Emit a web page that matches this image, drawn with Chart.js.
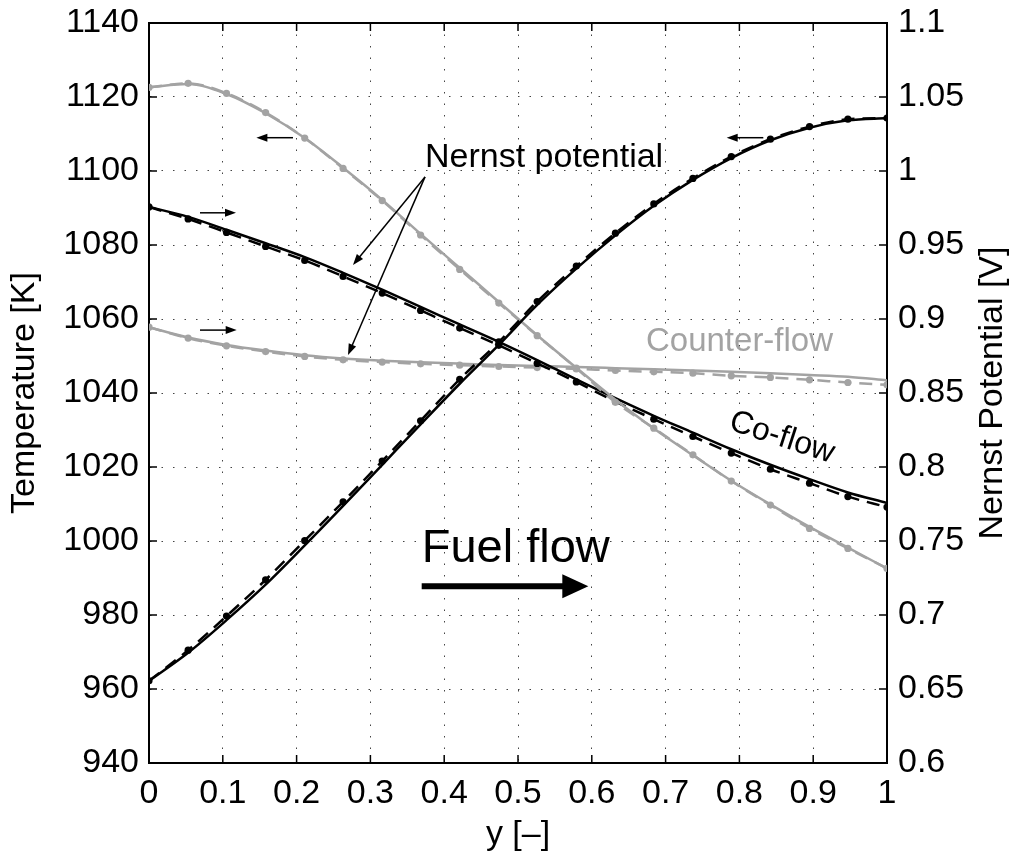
<!DOCTYPE html>
<html>
<head>
<meta charset="utf-8">
<title>Temperature / Nernst potential</title>
<script src="https://cdn.jsdelivr.net/npm/chart.js@4/dist/chart.umd.min.js"></script>
<style>
  html, body { margin: 0; padding: 0; background: #fff; }
  #wrap { width: 1014px; height: 857px; }
</style>
</head>
<body>
<div id="wrap"><canvas id="grafico" width="1014" height="857"></canvas></div>
<script>
// Posiciones a lo largo de la celda, y [-]
const posY = [0, 0.053, 0.105, 0.158, 0.211, 0.263, 0.316, 0.368, 0.421, 0.474,
              0.526, 0.579, 0.632, 0.684, 0.737, 0.789, 0.842, 0.895, 0.947, 1];

// Temperatura [K] — co-flow (negro)
const tempCoSolid  = [962.2, 969.8, 978.6, 988.2, 998.8, 1009.5, 1020.6, 1031.5, 1042.5, 1053.0,
                      1063.8, 1073.6, 1082.6, 1090.6, 1097.6, 1103.5, 1108.3, 1111.7, 1113.7, 1114.3];
const tempCoDash   = [962.2, 970.5, 979.7, 989.5, 1000.1, 1010.6, 1021.6, 1032.5, 1043.7, 1053.8,
                      1064.7, 1074.3, 1083.2, 1091.1, 1098.0, 1103.9, 1108.6, 1112.0, 1114.0, 1114.3];

// Temperatura [K] — counter-flow (gris)
const tempCtSolid  = [1122.6, 1123.5, 1120.8, 1115.6, 1108.9, 1100.9, 1092.2, 1083.0, 1073.8, 1064.6,
                      1055.6, 1046.8, 1038.2, 1030.4, 1023.2, 1016.3, 1009.9, 1003.8, 998.2, 992.6];
const tempCtDash   = [1122.6, 1123.7, 1121.0, 1115.8, 1108.9, 1100.7, 1092.0, 1082.7, 1073.4, 1064.3,
                      1055.5, 1046.7, 1037.5, 1030.5, 1023.3, 1016.2, 1009.7, 1003.4, 998.0, 992.6];

// Potencial de Nernst [V] — co-flow (negro)
const nernstCoSolid = [0.9757, 0.9690, 0.9603, 0.9512, 0.9418, 0.9312, 0.9198, 0.9082, 0.8963, 0.8845,
                       0.8722, 0.8592, 0.8465, 0.8346, 0.8232, 0.8120, 0.8015, 0.7918, 0.7828, 0.7757];
const nernstCoDash  = [0.9757, 0.9676, 0.9585, 0.9490, 0.9396, 0.9288, 0.9175, 0.9058, 0.8939, 0.8822,
                       0.8700, 0.8575, 0.8442, 0.8323, 0.8206, 0.8094, 0.7985, 0.7891, 0.7800, 0.7729];

// Potencial de Nernst [V] — counter-flow (gris)
const nernstCtSolid = [0.8945, 0.8875, 0.8825, 0.8787, 0.8755, 0.8733, 0.8718, 0.8707, 0.8698, 0.8690,
                       0.8683, 0.8676, 0.8668, 0.8660, 0.8652, 0.8643, 0.8633, 0.8622, 0.8610, 0.8585];
const nernstCtDash  = [0.8945, 0.8871, 0.8819, 0.8780, 0.8747, 0.8724, 0.8709, 0.8697, 0.8688, 0.8679,
                       0.8672, 0.8663, 0.8652, 0.8643, 0.8634, 0.8616, 0.8605, 0.8589, 0.8571, 0.8555];

// Ejes
const ejeX  = { min: 0,   max: 1,    paso: 0.1 };
const ejeT  = { min: 940, max: 1140, paso: 20 };
const ejeV  = { min: 0.6, max: 1.1,  paso: 0.05 };

const NEGRO = '#000000';
const GRIS  = '#a3a3a3';
const FUENTE = '"Liberation Sans", Arial, Helvetica, sans-serif';

Chart.defaults.font.family = FUENTE;
Chart.defaults.font.size = 34;
Chart.defaults.color = '#000';

function puntos(valores) {
  return posY.map((x, i) => ({ x: x, y: valores[i] }));
}

function serie(valores, color, eje, discontinua) {
  return {
    data: puntos(valores),
    yAxisID: eje,
    borderColor: color,
    backgroundColor: color,
    borderWidth: 2.5,
    borderDash: discontinua ? [13, 8] : [],
    pointRadius: discontinua ? 3.6 : 0,
    pointBorderWidth: 0,
    pointBackgroundColor: color,
    cubicInterpolationMode: 'monotone',
    fill: false
  };
}

function formato(v) {
  return String(parseFloat(Number(v).toFixed(2)));
}

// Fija el tamaño del eje y anula el relleno automático de las etiquetas
function fijarEje(ancho, alto) {
  return s => {
    if (ancho) s.width = ancho;
    if (alto) s.height = alto;
    s.paddingTop = 0; s.paddingBottom = 0;
    s.paddingLeft = 0; s.paddingRight = 0;
  };
}

/**
 * Dibuja marco, ticks hacia dentro, título derecho y anotaciones
 */
const anotaciones = {
  id: 'anotaciones',
  afterDraw(chart) {
    const { ctx, chartArea: a, scales } = chart;
    const sx = scales.x, sT = scales.yT, sV = scales.yV;
    const px = v => sx.getPixelForValue(v);
    const pT = v => sT.getPixelForValue(v);

    function linea(x1, y1, x2, y2) {
      ctx.beginPath(); ctx.moveTo(x1, y1); ctx.lineTo(x2, y2); ctx.stroke();
    }

    function flecha(x1, t1, x2, t2, grosor, largo, ancho) {
      const X1 = px(x1), Y1 = pT(t1), X2 = px(x2), Y2 = pT(t2);
      const ang = Math.atan2(Y2 - Y1, X2 - X1);
      const bx = X2 - largo * Math.cos(ang), by = Y2 - largo * Math.sin(ang);
      ctx.lineWidth = grosor;
      linea(X1, Y1, bx + Math.cos(ang) * 1, by + Math.sin(ang) * 1);
      ctx.beginPath();
      ctx.moveTo(X2, Y2);
      ctx.lineTo(bx + ancho * Math.sin(ang), by - ancho * Math.cos(ang));
      ctx.lineTo(bx - ancho * Math.sin(ang), by + ancho * Math.cos(ang));
      ctx.closePath();
      ctx.fill();
    }

    ctx.save();
    ctx.strokeStyle = NEGRO;
    ctx.fillStyle = NEGRO;

    // marco superior
    ctx.lineWidth = 2;
    linea(a.left, a.top, a.right, a.top);

    // ticks hacia dentro
    ctx.lineWidth = 1.5;
    sx.ticks.forEach(t => {
      const p = px(t.value);
      linea(p, a.bottom, p, a.bottom - 8);
      linea(p, a.top, p, a.top + 8);
    });
    sT.ticks.forEach(t => { const p = pT(t.value); linea(a.left, p, a.left + 8, p); });
    sV.ticks.forEach(t => { const p = sV.getPixelForValue(t.value); linea(a.right, p, a.right - 8, p); });

    // título eje derecho (de abajo hacia arriba)
    ctx.save();
    ctx.translate(993, (a.top + a.bottom) / 2);
    ctx.rotate(-Math.PI / 2);
    ctx.font = '34px ' + FUENTE;
    ctx.textAlign = 'center';
    ctx.textBaseline = 'middle';
    ctx.fillText('Nernst Potential [V]', 0, 0);
    ctx.restore();

    // textos
    ctx.textAlign = 'left';
    ctx.textBaseline = 'alphabetic';
    ctx.font = '34px ' + FUENTE;
    ctx.fillText('Nernst potential', px(0.374), pT(1101.2));

    ctx.font = '47px ' + FUENTE;
    ctx.fillText('Fuel flow', px(0.3695), pT(994.4));

    ctx.fillStyle = GRIS;
    ctx.font = '33px ' + FUENTE;
    ctx.fillText('Counter-flow', px(0.6734), pT(1051.4));

    ctx.fillStyle = NEGRO;
    ctx.save();
    ctx.translate(px(0.7841), pT(1030.2));
    ctx.rotate(18 * Math.PI / 180);
    ctx.font = '32px ' + FUENTE;
    ctx.fillText('Co-flow', 0, 0);
    ctx.restore();

    // flechas "Nernst potential"
    flecha(0.374, 1098.4, 0.2764, 1074.6, 1.5, 11, 4);
    flecha(0.374, 1098.4, 0.2697, 1050.3, 1.5, 11, 4);

    // flechas de eje (izquierda = temperatura, derecha = Nernst)
    flecha(0.1951, 1109.0, 0.1455, 1109.0, 1.5, 11, 4);
    flecha(0.0691, 1088.7, 0.1179, 1088.7, 1.5, 11, 4);
    flecha(0.0691, 1057.0, 0.1188, 1057.0, 1.5, 11, 4);
    flecha(0.8324, 1109.0, 0.7828, 1109.0, 1.5, 11, 4);

    // flecha gruesa "Fuel flow"
    flecha(0.3695, 987.8, 0.5953, 987.8, 6, 26, 12);

    ctx.restore();
  }
};

const ctx = document.getElementById('grafico');

new Chart(ctx, {
  type: 'line',
  data: {
    datasets: [
      serie(tempCoSolid,   NEGRO, 'yT', false),
      serie(tempCoDash,    NEGRO, 'yT', true),
      serie(tempCtSolid,   GRIS,  'yT', false),
      serie(tempCtDash,    GRIS,  'yT', true),
      serie(nernstCoSolid, NEGRO, 'yV', false),
      serie(nernstCoDash,  NEGRO, 'yV', true),
      serie(nernstCtSolid, GRIS,  'yV', false),
      serie(nernstCtDash,  GRIS,  'yV', true)
    ]
  },
  options: {
    responsive: false,
    animation: false,
    devicePixelRatio: 1,
    layout: { padding: { top: 23, left: 0, right: 0, bottom: 0 }, autoPadding: false },
    plugins: { legend: { display: false }, tooltip: { enabled: false } },
    scales: {
      x: {
        type: 'linear',
        min: ejeX.min, max: ejeX.max,
        afterFit: fijarEje(0, 94),
        ticks: { stepSize: ejeX.paso, padding: 10, maxRotation: 0, callback: formato },
        grid: { color: '#444', lineWidth: 1, drawTicks: false },
        border: { display: true, color: NEGRO, width: 2, dash: [1.5, 10] },
        title: { display: true, text: 'y [–]', padding: { top: 0, bottom: 2 } }
      },
      yT: {
        type: 'linear',
        position: 'left',
        min: ejeT.min, max: ejeT.max,
        afterFit: fijarEje(149, 0),
        ticks: { stepSize: ejeT.paso, padding: 10, callback: formato },
        grid: { color: '#444', lineWidth: 1, drawTicks: false },
        border: { display: true, color: NEGRO, width: 2, dash: [1.5, 10] },
        title: { display: true, text: 'Temperature [K]', padding: { top: 4, bottom: 0 } }
      },
      yV: {
        type: 'linear',
        position: 'right',
        min: ejeV.min, max: ejeV.max,
        afterFit: fijarEje(127, 0),
        ticks: { stepSize: ejeV.paso, padding: 11, callback: formato },
        grid: { display: false, drawTicks: false },
        border: { display: true, color: NEGRO, width: 2 }
      }
    }
  },
  plugins: [anotaciones]
});
</script>
</body>
</html>
